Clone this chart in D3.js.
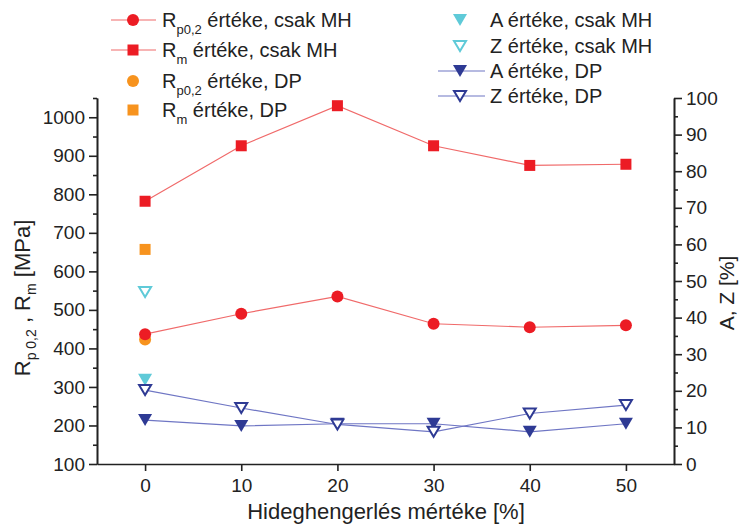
<!DOCTYPE html>
<html>
<head>
<meta charset="utf-8">
<script src="https://cdn.jsdelivr.net/npm/d3@7"></script>
<style>
  html, body { margin: 0; padding: 0; background: #fff; }
  svg { display: block; font-family: "Liberation Sans", Arial, sans-serif; }
</style>
</head>
<body>
<svg id="chart" width="744" height="524"></svg>
<script>
// Cold-rolling reduction [%]
const reduction = [0, 10, 20, 30, 40, 50];

// Strength values [MPa], cold rolling only (MH)
const rp02MH = [437, 490, 535, 464, 455, 460];
const rmMH   = [782, 926, 1030, 926, 875, 878];

// Strength values [MPa], DP state (only at 0 %)
const rp02DP = [423];
const rmDP   = [657];

// Elongation / reduction of area [%], cold rolling only (MH, only at 0 %)
const aMH = [23];
const zMH = [47];

// Elongation / reduction of area [%], DP
const aDP = [12, 10.4, 11, 11, 8.8, 11];
const zDP = [20.2, 15.3, 10.8, 8.8, 13.8, 16.1];

// Axis ticks
const leftMajor  = [100, 200, 300, 400, 500, 600, 700, 800, 900, 1000];
const leftMinor  = [150, 250, 350, 450, 550, 650, 750, 850, 950, 1050];
const rightMajor = [0, 10, 20, 30, 40, 50, 60, 70, 80, 90, 100];
const rightMinor = [5, 15, 25, 35, 45, 55, 65, 75, 85, 95];
const xTicks     = [0, 10, 20, 30, 40, 50];

const svg = d3.select("#chart");

const x  = d3.scaleLinear().domain([-5, 55]).range([97, 674]);
const yL = d3.scaleLinear().domain([100, 1050]).range([464, 98]);
const yR = d3.scaleLinear().domain([0, 100]).range([464, 98]);

const C = {
  red: "#ec1c24", redLine: "#f06a6a",
  orange: "#f7931e",
  cyan: "#5fcad8",
  navy: "#2e3a94", navyLine: "#6f76c4",
  axis: "#222"
};

const tickFont = 19;
const fmt = d3.format("d");

// ---- axes ----
function styleAxis(g) {
  g.selectAll("path.domain").attr("stroke", C.axis).attr("stroke-width", 1.6);
  g.selectAll(".tick line").attr("stroke", C.axis).attr("stroke-width", 1.6);
  g.selectAll(".tick text").attr("fill", "#222").attr("font-size", tickFont)
    .attr("font-family", "Liberation Sans, Arial, sans-serif");
}

const gL = svg.append("g").attr("transform", `translate(${x(-5)},0)`)
  .call(d3.axisLeft(yL).tickValues(leftMajor).tickFormat(fmt).tickSize(8).tickSizeOuter(0).tickPadding(4));
styleAxis(gL);
const gLm = svg.append("g").attr("transform", `translate(${x(-5)},0)`)
  .call(d3.axisLeft(yL).tickValues(leftMinor).tickSize(4).tickSizeOuter(0).tickFormat(""));
styleAxis(gLm);

const gR = svg.append("g").attr("transform", `translate(${x(55)},0)`)
  .call(d3.axisRight(yR).tickValues(rightMajor).tickFormat(fmt).tickSize(8).tickSizeOuter(0).tickPadding(4));
styleAxis(gR);
const gRm = svg.append("g").attr("transform", `translate(${x(55)},0)`)
  .call(d3.axisRight(yR).tickValues(rightMinor).tickSize(4).tickSizeOuter(0).tickFormat(""));
styleAxis(gRm);

const gB = svg.append("g").attr("transform", `translate(0,${yL(100)})`)
  .call(d3.axisBottom(x).tickValues(xTicks).tickFormat(fmt).tickSize(7).tickSizeOuter(0).tickPadding(8));
styleAxis(gB);

// ---- axis titles ----
svg.append("text")
  .attr("x", 386).attr("y", 519)
  .attr("text-anchor", "middle").attr("font-size", 22).attr("fill", "#222")
  .text("Hideghengerlés mértéke [%]");

const lt = svg.append("text")
  .attr("transform", "translate(30,298) rotate(-90)")
  .attr("text-anchor", "middle").attr("font-size", 22).attr("fill", "#222");
lt.append("tspan").text("R");
lt.append("tspan").attr("font-size", 14).attr("dy", 6).text("p 0,2");
lt.append("tspan").attr("dy", -6).text(" , R");
lt.append("tspan").attr("font-size", 14).attr("dy", 6).text("m");
lt.append("tspan").attr("dy", -6).text(" [MPa]");

svg.append("text")
  .attr("transform", "translate(734,293) rotate(-90)")
  .attr("text-anchor", "middle").attr("font-size", 21).attr("fill", "#222")
  .text("A, Z [%]");

// ---- marker helpers ----
function triDown(w, h) {
  return `M${-w / 2},${-h / 2}L${w / 2},${-h / 2}L0,${h / 2}Z`;
}
function drawMarker(g, type, cx, cy, color) {
  if (type === "circle") {
    g.append("circle").attr("cx", cx).attr("cy", cy).attr("r", 6).attr("fill", color);
  } else if (type === "square") {
    g.append("rect").attr("x", cx - 5.5).attr("y", cy - 5.5).attr("width", 11).attr("height", 11).attr("fill", color);
  } else if (type === "triFill") {
    g.append("path").attr("d", triDown(14, 12)).attr("transform", `translate(${cx},${cy})`).attr("fill", color);
  } else if (type === "triOpen") {
    g.append("path").attr("d", triDown(12, 10)).attr("transform", `translate(${cx},${cy})`)
      .attr("fill", "#fff").attr("stroke", color).attr("stroke-width", 2);
  }
}

const line = (yScale) => d3.line().x((d, i) => x(reduction[i])).y(d => yScale(d));

// ---- series ----
const series = [
  { vals: aDP,    y: yR, line: C.navyLine, type: "triFill", color: C.navy },
  { vals: zDP,    y: yR, line: C.navyLine, type: "triOpen", color: C.navy },
  { vals: rp02MH, y: yL, line: C.redLine,  type: "circle",  color: C.red },
  { vals: rmMH,   y: yL, line: C.redLine,  type: "square",  color: C.red },
];
series.forEach(s => {
  svg.append("path").datum(s.vals).attr("d", line(s.y)(s.vals))
    .attr("fill", "none").attr("stroke", s.line).attr("stroke-width", 1.2);
});

const single = [
  { vals: zMH,    y: yR, type: "triOpen", color: C.cyan },
  { vals: aMH,    y: yR, type: "triFill", color: C.cyan },
  { vals: rp02DP, y: yL, type: "circle",  color: C.orange },
  { vals: rmDP,   y: yL, type: "square",  color: C.orange },
];

const gm = svg.append("g");
single.forEach(s => s.vals.forEach((v, i) => drawMarker(gm, s.type, x(reduction[i]), s.y(v), s.color)));
series.forEach(s => s.vals.forEach((v, i) => drawMarker(gm, s.type, x(reduction[i]), s.y(v), s.color)));

// ---- legend ----
const legendLeft = [
  { main: "R", sub: "p0,2", rest: " értéke, csak MH", type: "circle", color: C.red, line: C.redLine, y: 20 },
  { main: "R", sub: "m",    rest: " értéke, csak MH", type: "square", color: C.red, line: C.redLine, y: 50 },
  { main: "R", sub: "p0,2", rest: " értéke, DP",      type: "circle", color: C.orange, line: null, y: 81 },
  { main: "R", sub: "m",    rest: " értéke, DP",      type: "square", color: C.orange, line: null, y: 110 },
];
const legendRight = [
  { text: "A értéke, csak MH", type: "triFill", color: C.cyan, line: null, y: 20 },
  { text: "Z értéke, csak MH", type: "triOpen", color: C.cyan, line: null, y: 46 },
  { text: "A értéke, DP",      type: "triFill", color: C.navy, line: C.navyLine, y: 71 },
  { text: "Z értéke, DP",      type: "triOpen", color: C.navy, line: C.navyLine, y: 96 },
];

const lg = svg.append("g");
legendLeft.forEach(d => {
  if (d.line) lg.append("line").attr("x1", 111).attr("x2", 156).attr("y1", d.y).attr("y2", d.y)
    .attr("stroke", d.line).attr("stroke-width", 1.2);
  drawMarker(lg, d.type, 133, d.y, d.color);
  const t = lg.append("text").attr("x", 162).attr("y", d.y + 7).attr("font-size", 20).attr("fill", "#222");
  t.append("tspan").text(d.main);
  t.append("tspan").attr("font-size", 13).attr("dy", 7).text(d.sub);
  t.append("tspan").attr("dy", -7).text(d.rest);
});
legendRight.forEach(d => {
  if (d.line) lg.append("line").attr("x1", 438).attr("x2", 485).attr("y1", d.y).attr("y2", d.y)
    .attr("stroke", d.line).attr("stroke-width", 1.2);
  drawMarker(lg, d.type, 460, d.y, d.color);
  lg.append("text").attr("x", 490).attr("y", d.y + 7).attr("font-size", 20).attr("fill", "#222").text(d.text);
});
</script>
</body>
</html>
